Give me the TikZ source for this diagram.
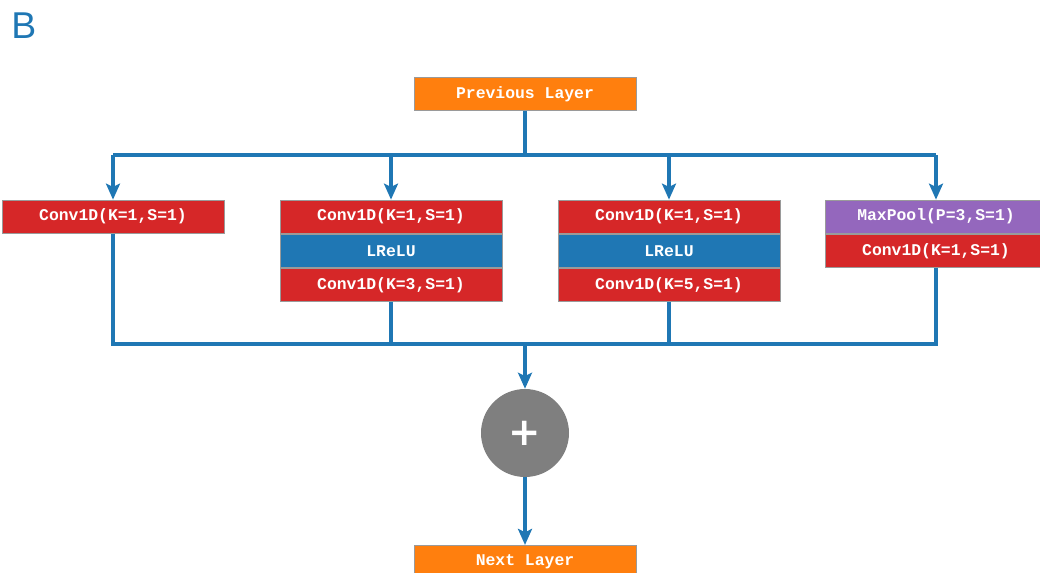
\documentclass[tikz,border=0pt]{standalone}
\usepackage{fontspec}
\setmainfont{Liberation Sans}
\newfontfamily\boxfont{Liberation Mono}
\newfontfamily\symfont{DejaVu Sans}
\usetikzlibrary{arrows.meta}

\definecolor{flowblue}{HTML}{1F77B4}
\definecolor{layerorange}{HTML}{FF7F0E}
\definecolor{convred}{HTML}{D62728}
\definecolor{poolpurple}{HTML}{9467BD}
\definecolor{sumgray}{HTML}{7F7F7F}
\definecolor{boxedge}{HTML}{9A9A9A}

\begin{document}
\begin{tikzpicture}[x=0.75pt, y=-0.75pt,
  layerbox/.style={rectangle, draw=boxedge, line width=0.6pt,
    minimum width=166.5pt, minimum height=25pt, inner sep=0pt,
    text=white, font=\boxfont\bfseries\fontsize{12.3}{12.3}\selectfont},
  inbox/.style={layerbox, fill=layerorange},
  convbox/.style={layerbox, fill=convred},
  actbox/.style={layerbox, fill=flowblue},
  poolbox/.style={layerbox, fill=poolpurple},
  link/.style={draw=flowblue, line width=2.3pt},
  flow/.style={link, -{Stealth[length=12pt, width=10.5pt, inset=2.5pt]}},
]
\useasboundingbox (0,0) rectangle (1040,572);

% panel letter
\node[anchor=base west, inner sep=0pt, text=flowblue,
      font=\fontsize{28}{28}\selectfont] (panel) at (11,38) {B};

% input layer
\node[inbox] (prev) at (525,94) {Previous Layer};

% branch 1
\node[convbox] (a1) at (113,216.7) {Conv1D(K=1,S=1)};

% branch 2
\node[convbox] (b1) at (391,216.7) {Conv1D(K=1,S=1)};
\node[actbox, anchor=north] (b2) at (b1.south) {LReLU};
\node[convbox, anchor=north] (b3) at (b2.south) {Conv1D(K=3,S=1)};

% branch 3
\node[convbox] (c1) at (669,216.7) {Conv1D(K=1,S=1)};
\node[actbox, anchor=north] (c2) at (c1.south) {LReLU};
\node[convbox, anchor=north] (c3) at (c2.south) {Conv1D(K=5,S=1)};

% branch 4
\node[poolbox] (d1) at (936,216.7) {MaxPool(P=3,S=1)};
\node[convbox, anchor=north] (d2) at (d1.south) {Conv1D(K=1,S=1)};

% element-wise sum
\node[circle, fill=sumgray, minimum size=66pt, inner sep=0pt, text=white,
      font=\symfont\bfseries\fontsize{29}{29}\selectfont] (sum) at (525,433) {+};

% output layer
\node[inbox] (next) at (525,562) {Next Layer};

% split and merge points
\coordinate (split) at (525,155);
\coordinate (merge) at (525,344);

% fan-out
\draw[link] (prev.south) -- (split);
\draw[link] (a1.north |- split) -- (d1.north |- split);
\draw[flow] (a1.north |- split) -- (a1.north);
\draw[flow] (b1.north |- split) -- (b1.north);
\draw[flow] (c1.north |- split) -- (c1.north);
\draw[flow] (d1.north |- split) -- (d1.north);

% fan-in
\draw[link] (a1.south) -- (a1.south |- merge) -- (d2.south |- merge) -- (d2.south);
\draw[link] (b3.south) -- (b3.south |- merge);
\draw[link] (c3.south) -- (c3.south |- merge);
\draw[flow] (merge) -- (sum.north);
\draw[flow] (sum.south) -- (next.north);
\end{tikzpicture}
\end{document}
